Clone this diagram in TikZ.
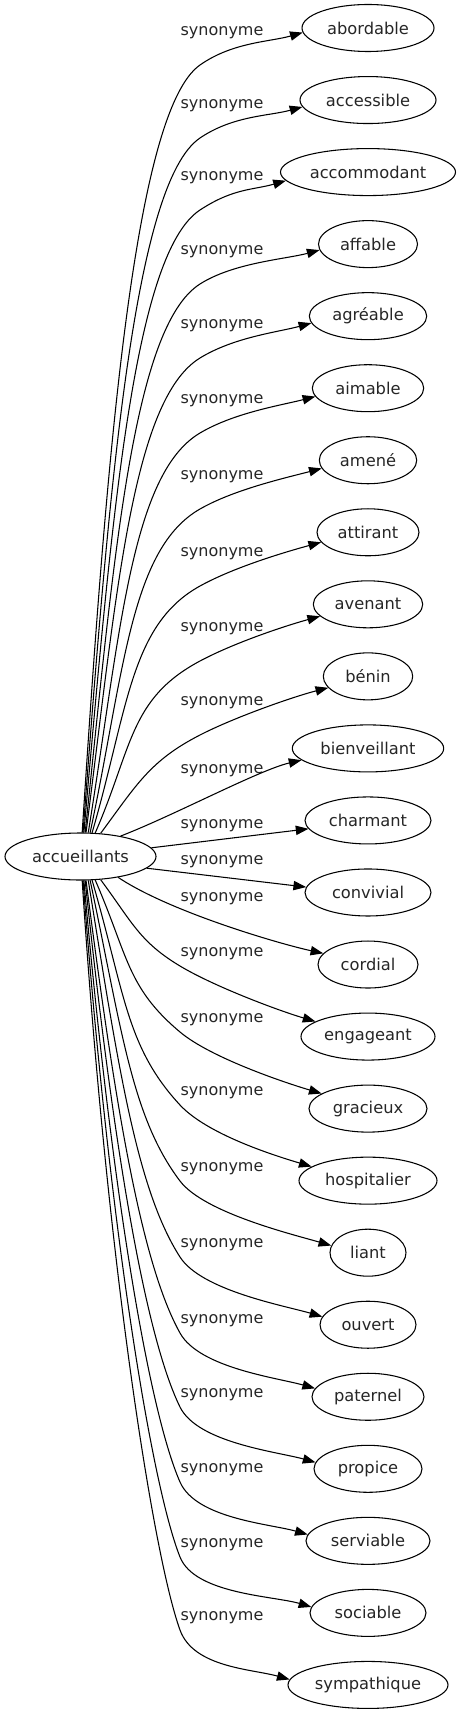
\documentclass[tikz,border=0pt]{standalone}
\usepackage{fontspec}
\setmainfont{DejaVu Sans}
\usetikzlibrary{arrows.meta,shapes.geometric}
\begin{document}
\begin{tikzpicture}[x=0.75pt,y=-0.75pt,
  tgt/.style={ellipse, draw, line width=0.8pt, inner sep=0pt, minimum height=35.25pt,
    text=black!85, font=\fontsize{12.2}{14}\selectfont},
  lbl/.style={inner sep=0pt, text=black!85, font=\fontsize{12}{14}\selectfont},
  syn/.style={draw, line width=0.8pt, -{Triangle[length=9.5pt,width=7pt]}}]
\path[fill=white] (0,0) rectangle (460,1715);
\useasboundingbox (0,0) rectangle (460,1715);
\node[tgt, minimum width=113.25pt] (c) at (80.5,856.5) {accueillants};
% upper edges
\foreach \i/\name/\rx/\yl/\tx/\toff in {
 0/abordable/66/33/82/5,
 1/accessible/68/106/83/7,
 2/accommodant/87.5/178/84/9,
 3/affable/49.5/252/85/6,
 4/agréable/58.7/326/86/7,
 5/aimable/55.7/401/88/8,
 6/amené/48.7/477/90/8,
 7/attirant/51/554/92/10,
 8/avenant/54.7/629/95/12,
 9/bénin/44.7/703/100/11}{
 \pgfmathsetmacro\yt{28+72.04*\i}
 \pgfmathsetmacro\w{1.5*\rx}
 \node[tgt, minimum width=\w pt] (n\i) at (368,\yt) {\name};
 \node[lbl] (l\i) at (222,\yl) {synonyme};
 \pgfmathsetmacro\D{856.5-\yt}
 \pgfmathsetmacro\dxt{\tx-80.5}
 \pgfmathsetmacro\dyt{23.5*sqrt(1-(\dxt/75.5)^2)}
 \pgfmathtruncatemacro\ta{round(atan2(\dyt,\dxt))}
 \pgfmathsetmacro\Ty{856.5-\dyt}
 \pgfmathsetmacro\thz{atan((\D/150)^1.6)}
 \pgfmathsetmacro\By{\yl+32}
 \pgfmathsetmacro\phB{25+10*\D/829}
 \pgfmathsetmacro\Lone{0.5*(\Ty-\By)/sin(\thz)}
 \pgfmathsetmacro\Pax{\tx+\Lone*cos(\thz)}
 \pgfmathsetmacro\Pay{\Ty-\Lone*sin(\thz)}
 \pgfmathsetmacro\dist{veclen(200-\tx,\Ty-\By)}
 \pgfmathsetmacro\Ltwo{min(80,0.4*\dist)}
 \pgfmathsetmacro\Pbx{200-\Ltwo*cos(\phB)}
 \pgfmathsetmacro\Pby{\By+\Ltwo*sin(\phB)}
 \pgfmathsetmacro\Qax{200+40*cos(\phB)}
 \pgfmathsetmacro\Qay{\By-40*sin(\phB)}
 \pgfmathsetmacro\X{\rx*sqrt(1-(\toff/23.5)^2)}
 \pgfmathtruncatemacro\be{round(180+atan(\toff/\X))}
 \pgfmathsetmacro\tipx{368-\X}
 \pgfmathsetmacro\tipy{\yt+\toff}
 \pgfmathsetmacro\Qbx{\tipx-34}
 \pgfmathsetmacro\Qby{\tipy+9}
 \draw[syn] (c.\ta) .. controls (\Pax,\Pay) and (\Pbx,\Pby) .. (200,\By)
   .. controls (\Qax,\Qay) and (\Qbx,\Qby) .. (n\i.\be);
}
% near edges
\node[tgt, minimum width=113.55pt] (n10) at (368,748.4) {bienveillant};
\node[lbl] (l10) at (222,771) {synonyme};
\draw[syn] (c.27) .. controls (175,815) and (259,770) .. (n10.190);
\node[tgt, minimum width=94.5pt] (n11) at (368,820.44) {charmant};
\node[lbl] (l11) at (222,826) {synonyme};
\draw[syn] (c.7) -- (n11.188);
\node[tgt, minimum width=94.5pt] (n12) at (368,892.48) {convivial};
\node[lbl] (l12) at (222,862) {synonyme};
\draw[syn] (c.350) -- (n12.175);
\node[tgt, minimum width=75pt] (n13) at (368,964.52) {cordial};
\node[lbl] (l13) at (222,899) {synonyme};
\draw[syn] (c.331) .. controls (170,912) and (280,944) .. (n13.166);
% lower edges
\foreach \i/\name/\rx/\yl/\tx/\toff in {
 14/engageant/67/954/100/-15,
 15/gracieux/59/1020/95/-15,
 16/hospitalier/69/1093/92/-14,
 17/liant/38/1169/90/-7,
 18/ouvert/48/1245/88/-8,
 19/paternel/56/1321/86/-8,
 20/propice/54/1395/85/-6,
 21/serviable/62/1470/84/-6,
 22/sociable/58/1545/83/-6,
 23/sympathique/80/1618/82/-5}{
 \pgfmathsetmacro\yt{28+72.04*\i}
 \pgfmathsetmacro\w{1.5*\rx}
 \node[tgt, minimum width=\w pt] (n\i) at (368,\yt) {\name};
 \node[lbl] (l\i) at (222,\yl) {synonyme};
 \pgfmathsetmacro\D{\yt-856.5}
 \pgfmathsetmacro\dxt{\tx-80.5}
 \pgfmathsetmacro\dyt{23.5*sqrt(1-(\dxt/75.5)^2)}
 \pgfmathtruncatemacro\ta{round(360-atan2(\dyt,\dxt))}
 \pgfmathsetmacro\Ty{856.5+\dyt}
 \pgfmathsetmacro\thz{atan((\D/150)^1.6)}
 \pgfmathsetmacro\By{\yl+12}
 \pgfmathsetmacro\phB{atan(\D/300)}
 \pgfmathsetmacro\Lone{0.5*(\By-\Ty)/sin(\thz)}
 \pgfmathsetmacro\Pax{\tx+\Lone*cos(\thz)}
 \pgfmathsetmacro\Pay{\Ty+\Lone*sin(\thz)}
 \pgfmathsetmacro\dist{veclen(180-\tx,\By-\Ty)}
 \pgfmathsetmacro\Ltwo{min(80,0.4*\dist)}
 \pgfmathsetmacro\Pbx{180-\Ltwo*cos(\phB)}
 \pgfmathsetmacro\Pby{\By-\Ltwo*sin(\phB)}
 \pgfmathsetmacro\Qax{180+40*cos(\phB)}
 \pgfmathsetmacro\Qay{\By+40*sin(\phB)}
 \pgfmathsetmacro\X{\rx*sqrt(1-(\toff/23.5)^2)}
 \pgfmathtruncatemacro\be{round(180+atan(\toff/\X))}
 \pgfmathsetmacro\tipx{368-\X}
 \pgfmathsetmacro\tipy{\yt+\toff}
 \pgfmathsetmacro\Qbx{\tipx-38}
 \pgfmathsetmacro\Qby{\tipy-11}
 \draw[syn] (c.\ta) .. controls (\Pax,\Pay) and (\Pbx,\Pby) .. (180,\By)
   .. controls (\Qax,\Qay) and (\Qbx,\Qby) .. (n\i.\be);
}
\end{tikzpicture}
\end{document}
